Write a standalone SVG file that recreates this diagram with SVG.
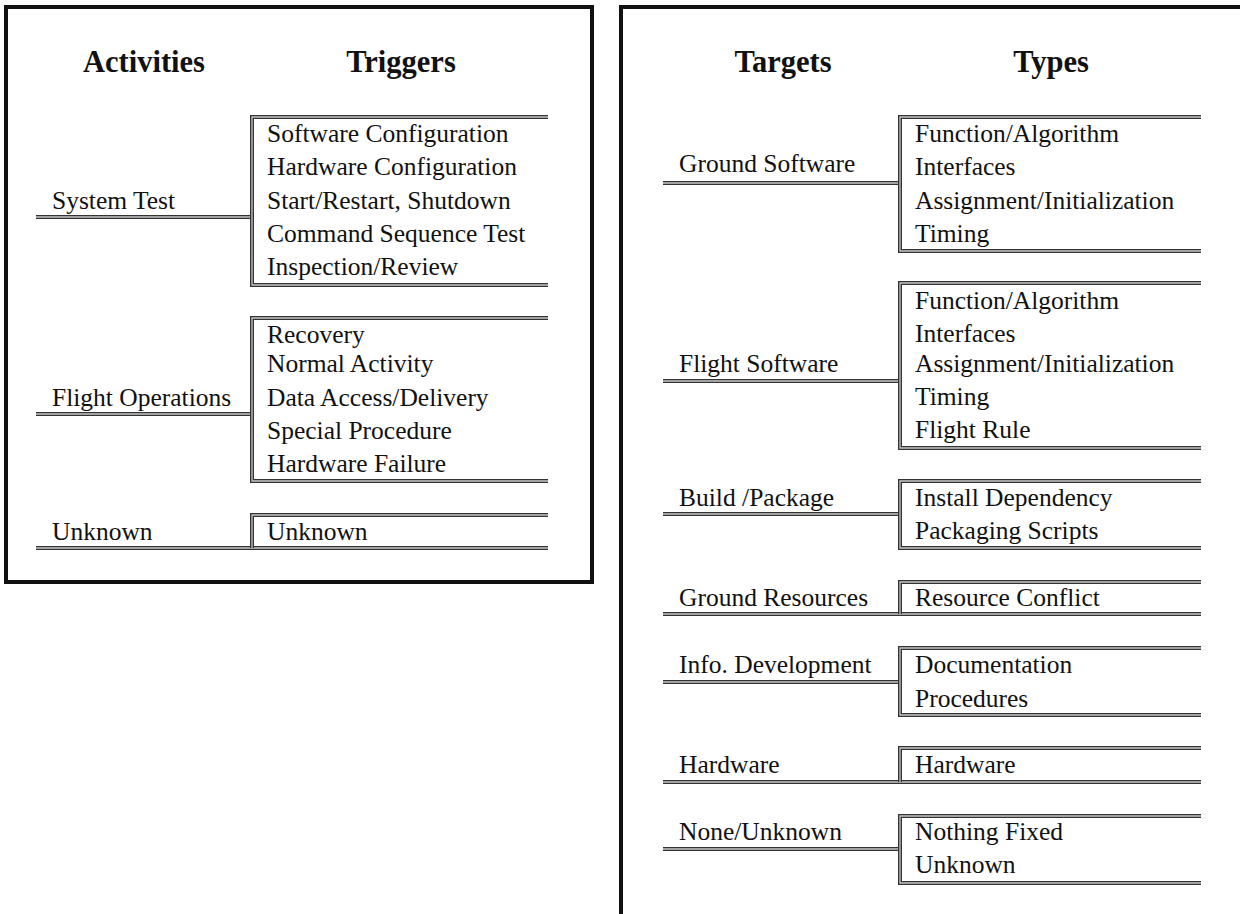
<svg xmlns="http://www.w3.org/2000/svg" width="1240" height="914" viewBox="0 0 1240 914">
<style>
.frame{fill:none;stroke:#111;stroke-width:4}
.o{fill:none;stroke:#333;stroke-width:4;stroke-linejoin:miter}
.i{fill:none;stroke:#c8c8c8;stroke-width:1.3;stroke-linejoin:miter}
.t{font-family:"Liberation Serif","Times New Roman",serif;font-size:25.5px;fill:#111}
.h{font-family:"Liberation Serif","Times New Roman",serif;font-size:30.5px;font-weight:bold;fill:#111;text-anchor:middle}
</style>
<rect x="0" y="0" width="1240" height="914" fill="#fff"/>
<rect class="frame" x="6" y="7" width="586" height="575"/>
<rect class="frame" x="621" y="7" width="660" height="940"/>
<text class="h" x="144" y="72">Activities</text>
<text class="h" x="401" y="72">Triggers</text>
<text class="h" x="783" y="72">Targets</text>
<text class="h" x="1051" y="72">Types</text>

<g id="connectors">
<path class="o" d="M36,217H252M36,414H252M36,548H548M663,183H900M663,381H900M663,514H900M663,614H1201M663,682H900M663,782H1201M663,849H900"/>
<path class="i" d="M36,217H252M36,414H252M36,548H548M663,183H900M663,381H900M663,514H900M663,614H1201M663,682H900M663,782H1201M663,849H900"/>
</g>

<g id="act-system-test"><text class="t" x="52" y="209">System Test</text></g>
<g id="act-flight-ops"><text class="t" x="52" y="406">Flight Operations</text></g>
<g id="act-unknown"><text class="t" x="52" y="540">Unknown</text></g>

<g id="trg-system-test">
<path class="o" d="M548,117H252V285H548"/><path class="i" d="M548,117H252V285H548"/>
<text class="t" x="267" y="142">Software Configuration</text>
<text class="t" x="267" y="175">Hardware Configuration</text>
<text class="t" x="267" y="209">Start/Restart, Shutdown</text>
<text class="t" x="267" y="242">Command Sequence Test</text>
<text class="t" x="267" y="275">Inspection/Review</text>
</g>
<g id="trg-flight-ops">
<path class="o" d="M548,318H252V481H548"/><path class="i" d="M548,318H252V481H548"/>
<text class="t" x="267" y="343">Recovery</text>
<text class="t" x="267" y="372">Normal Activity</text>
<text class="t" x="267" y="406">Data Access/Delivery</text>
<text class="t" x="267" y="439">Special Procedure</text>
<text class="t" x="267" y="472">Hardware Failure</text>
</g>
<g id="trg-unknown">
<path class="o" d="M548,515H252V548"/><path class="i" d="M548,515H252V548"/>
<text class="t" x="267" y="540">Unknown</text>
</g>

<g id="tgt-ground-sw"><text class="t" x="679" y="172">Ground Software</text></g>
<g id="tgt-flight-sw"><text class="t" x="679" y="372">Flight Software</text></g>
<g id="tgt-build"><text class="t" x="679" y="506">Build /Package</text></g>
<g id="tgt-ground-res"><text class="t" x="679" y="606">Ground Resources</text></g>
<g id="tgt-info"><text class="t" x="679" y="673">Info. Development</text></g>
<g id="tgt-hardware"><text class="t" x="679" y="773">Hardware</text></g>
<g id="tgt-none"><text class="t" x="679" y="840">None/Unknown</text></g>

<g id="typ-ground-sw">
<path class="o" d="M1201,117H900V251H1201"/><path class="i" d="M1201,117H900V251H1201"/>
<text class="t" x="915" y="142">Function/Algorithm</text>
<text class="t" x="915" y="175">Interfaces</text>
<text class="t" x="915" y="209">Assignment/Initialization</text>
<text class="t" x="915" y="242">Timing</text>
</g>
<g id="typ-flight-sw">
<path class="o" d="M1201,283H900V448H1201"/><path class="i" d="M1201,283H900V448H1201"/>
<text class="t" x="915" y="309">Function/Algorithm</text>
<text class="t" x="915" y="342">Interfaces</text>
<text class="t" x="915" y="372">Assignment/Initialization</text>
<text class="t" x="915" y="405">Timing</text>
<text class="t" x="915" y="438">Flight Rule</text>
</g>
<g id="typ-build">
<path class="o" d="M1201,481H900V548H1201"/><path class="i" d="M1201,481H900V548H1201"/>
<text class="t" x="915" y="506">Install Dependency</text>
<text class="t" x="915" y="539">Packaging Scripts</text>
</g>
<g id="typ-ground-res">
<path class="o" d="M1201,582H900V614"/><path class="i" d="M1201,582H900V614"/>
<text class="t" x="915" y="606">Resource Conflict</text>
</g>
<g id="typ-info">
<path class="o" d="M1201,648H900V715H1201"/><path class="i" d="M1201,648H900V715H1201"/>
<text class="t" x="915" y="673">Documentation</text>
<text class="t" x="915" y="707">Procedures</text>
</g>
<g id="typ-hardware">
<path class="o" d="M1201,748H900V782"/><path class="i" d="M1201,748H900V782"/>
<text class="t" x="915" y="773">Hardware</text>
</g>
<g id="typ-none">
<path class="o" d="M1201,816H900V883H1201"/><path class="i" d="M1201,816H900V883H1201"/>
<text class="t" x="915" y="840">Nothing Fixed</text>
<text class="t" x="915" y="873">Unknown</text>
</g>
</svg>
